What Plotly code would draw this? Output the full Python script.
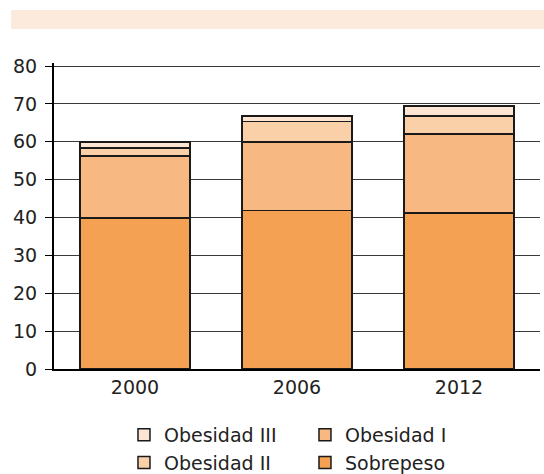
import plotly.graph_objects as go

years = ["2000", "2006", "2012"]
sobrepeso = [39.9, 41.9, 41.2]
obesidad_1 = [16.4, 18.1, 20.9]
obesidad_2 = [2.0, 5.4, 4.7]
obesidad_3 = [1.7, 1.4, 2.6]

series = [
    ("Sobrepeso", sobrepeso, "#F4A153", 4),
    ("Obesidad I", obesidad_1, "#F7B881", 2),
    ("Obesidad II", obesidad_2, "#FAD0A9", 3),
    ("Obesidad III", obesidad_3, "#FDE5D3", 1),
]

FONT = "DejaVu Sans, sans-serif"

fig = go.Figure()
for name, vals, color, rank in series:
    fig.add_trace(go.Bar(
        x=years, y=vals, name=name, legendrank=rank,
        marker=dict(color=color, line=dict(color="#1a1a1a", width=1.5)),
        width=0.68,
    ))

fig.update_layout(
    barmode="stack",
    width=544, height=474,
    margin=dict(l=54, r=4, t=63, b=105),
    paper_bgcolor="white", plot_bgcolor="white",
    font=dict(family=FONT, size=19, color="#222222"),
    showlegend=True,
    legend=dict(
        orientation="h", x=0.144, xanchor="left",
        yref="container", y=0.1225, yanchor="top",
        entrywidth=136, traceorder="normal",
        font=dict(family=FONT, size=19, color="#222222"),
    ),
    shapes=[dict(
        type="rect", xref="paper", yref="paper",
        x0=-0.0885, x1=1.01, y0=1.111, y1=1.173,
        fillcolor="#FCEBDD", line=dict(width=0), layer="below",
    )],
)
fig.update_xaxes(
    type="category", range=[-0.5, 2.5],
    showline=True, linecolor="black", linewidth=2,
    ticks="", showgrid=False,
)
fig.update_yaxes(
    range=[0, 80.8], tickvals=[0, 10, 20, 30, 40, 50, 60, 70, 80],
    showline=True, linecolor="black", linewidth=2,
    ticks="outside", ticklen=7, tickcolor="black", tickwidth=1,
    ticklabelstandoff=4,
    showgrid=True, gridcolor="#3a3a3a", gridwidth=1,
    zeroline=False,
)
fig.write_html("out.html")
